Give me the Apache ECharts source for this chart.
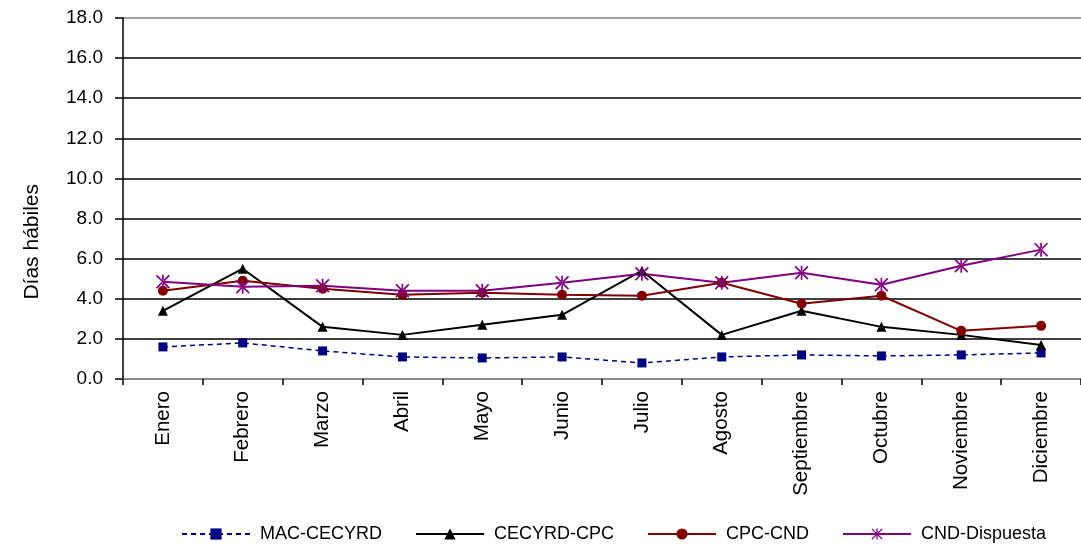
<!DOCTYPE html>
<html>
<head>
<meta charset="utf-8">
<script src="https://cdn.jsdelivr.net/npm/echarts@6/dist/echarts.min.js"></script>
<style>
html,body{margin:0;padding:0;background:#fff;}
#chart{width:1081px;height:546px;}
</style>
</head>
<body>
<div id="chart"></div>
<script>
const categories = ['Enero','Febrero','Marzo','Abril','Mayo','Junio','Julio','Agosto','Septiembre','Octubre','Noviembre','Diciembre'];
const macCecyrd = [1.6,1.8,1.4,1.1,1.05,1.1,0.8,1.1,1.2,1.15,1.2,1.3];
const cecyrdCpc = [3.4,5.5,2.6,2.2,2.7,3.2,5.4,2.2,3.4,2.6,2.2,1.7];
const cpcCnd = [4.4,4.9,4.5,4.2,4.3,4.2,4.15,4.8,3.75,4.15,2.4,2.65];
const cndDispuesta = [4.85,4.6,4.65,4.4,4.4,4.8,5.25,4.8,5.3,4.7,5.65,6.45];
const seriesNames = ['MAC-CECYRD','CECYRD-CPC','CPC-CND','CND-Dispuesta'];
const yAxisTitle = 'Días hábiles';

const FONT = '"Liberation Sans", Arial, sans-serif';
const asterisk = 'path://M4.4 0 L5.6 0 L5.6 10 L4.4 10 Z M0 0.85 L0.85 0 L10 9.15 L9.15 10 Z M10 0.85 L9.15 0 L0 9.15 L0.85 10 Z';

const chart = echarts.init(document.getElementById('chart'), null, {renderer:'canvas'});
chart.setOption({
  animation: false,
  backgroundColor: '#fff',
  grid: {left: 123, top: 18, width: 972, height: 361, containLabel: false},
  legend: {
    left: 176, top: 520,
    itemWidth: 68, itemHeight: 14, itemGap: 33,
    textStyle: {fontFamily: FONT, fontSize: 18, color: '#000', padding: [0,0,0,5]},
    data: seriesNames
  },
  graphic: [{
    type: 'text', left: 22, top: 184,
    style: {text: yAxisTitle, font: '21px ' + FONT, fill: '#000'},
    rotation: Math.PI/2
  }],
  xAxis: {
    type: 'category', data: categories, boundaryGap: true,
    axisLine: {lineStyle: {color: '#808080', width: 1.5}},
    axisTick: {show: true, length: 6, lineStyle: {color: '#000', width: 1.5}},
    axisLabel: {rotate: 90, margin: 12, interval: 0, fontFamily: FONT, fontSize: 20.5, color: '#000'},
    splitLine: {show: false}
  },
  yAxis: {
    type: 'value', min: 0, max: 18, interval: 2,
    axisLine: {show: true, lineStyle: {color: '#000', width: 1.5}},
    axisTick: {show: true, length: 8, lineStyle: {color: '#000', width: 1.5}},
    axisLabel: {margin: 20, fontFamily: FONT, fontSize: 19, color: '#000', formatter: v => v.toFixed(1)},
    splitLine: {show: true, lineStyle: {color: ['#808080','#000','#000','#000','#000','#000','#000','#000','#000','#808080'], width: 1.5}}
  },
  series: [
    {name: seriesNames[0], type: 'line', data: macCecyrd, symbol: 'rect', symbolSize: 9,
     itemStyle: {color: '#000080'}, lineStyle: {color: '#000080', width: 1.5, type: [5,4]}},
    {name: seriesNames[1], type: 'line', data: cecyrdCpc, symbol: 'triangle', symbolSize: 10,
     itemStyle: {color: '#000'}, lineStyle: {color: '#000', width: 2}},
    {name: seriesNames[2], type: 'line', data: cpcCnd, symbol: 'circle', symbolSize: 10,
     itemStyle: {color: '#800000'}, lineStyle: {color: '#800000', width: 2}},
    {name: seriesNames[3], type: 'line', data: cndDispuesta, symbol: asterisk, symbolSize: 14,
     itemStyle: {color: '#800080'}, lineStyle: {color: '#800080', width: 2}}
  ]
});
</script>
</body>
</html>
